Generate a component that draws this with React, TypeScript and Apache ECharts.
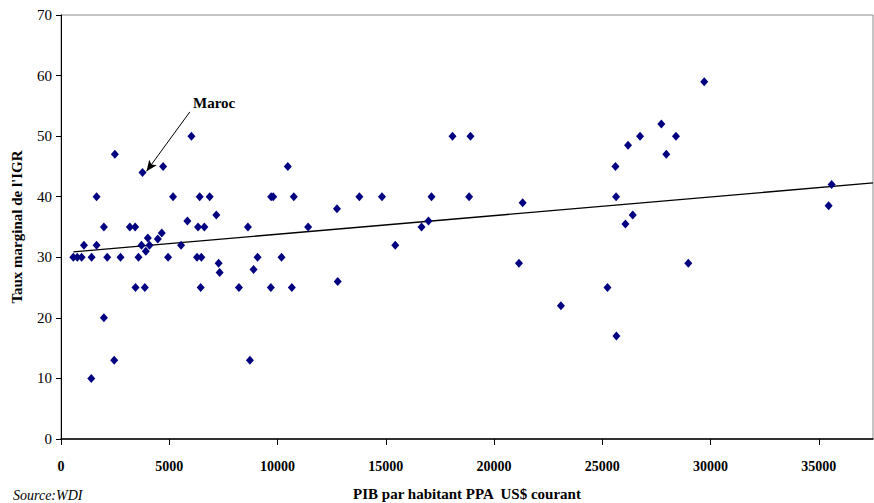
import React, { useEffect, useRef } from "react";
import * as echarts from "echarts";

const pibValues = [
  568, 753, 952, 1060, 1398, 1413, 1643, 1643, 1981, 1981, 2135, 2457, 2488, 2749, 3180, 3425, 3441, 3579, 3718, 3764,
  3871, 3917, 4009, 4087, 4470, 4654, 4716, 4946, 5175, 5545, 5837, 6023, 6282, 6328, 6405, 6451, 6482, 6620, 6866, 7173,
  7280, 7327, 8218, 8632, 8725, 8893, 9078, 9692, 9706, 9800, 10184, 10475, 10660, 10751, 11413, 12745, 12780, 13779, 14823, 15437,
  16650, 16970, 17110, 18080, 18848, 18910, 21150, 21320, 23087, 25237, 25606, 25635, 25650, 26066, 26188, 26404, 26742, 27725, 27955, 28400,
  28970, 29706, 35450, 35590,
];
const tauxValues = [
  30, 30, 30, 32, 10, 30, 40, 32, 35, 20, 30, 13, 47, 30, 35, 35, 25, 30, 32, 44,
  25, 31, 33.2, 32, 33, 34, 45, 30, 40, 32, 36, 50, 30, 35, 40, 25, 30, 35, 40, 37,
  29, 27.5, 25, 35, 13, 28, 30, 25, 40, 40, 30, 45, 25, 40, 35, 38, 26, 40, 40, 32,
  35, 36, 40, 50, 40, 50, 29, 39, 22, 25, 45, 40, 17, 35.5, 48.5, 37, 50, 52, 47, 50,
  29, 59, 38.5, 42,
];
const trendX = [568, 37500];
const trendY = [30.9, 42.27];
const arrowFrom = [5950, 54];
const arrowTo = [3950, 44.2];
const annotationText = "Maroc";

const serif = "'Liberation Serif', 'Times New Roman', serif";

export default function App() {
  const ref = useRef<HTMLDivElement>(null);
  useEffect(() => {
    if (!ref.current) return;
    const chart = echarts.init(ref.current, null, { renderer: "svg" });
    const points = pibValues.map((x, i) => [x, tauxValues[i]]);
    chart.setOption({
      animation: false,
      backgroundColor: "#ffffff",
      grid: {
        left: 61,
        right: 1,
        top: 15,
        bottom: 64,
        containLabel: false,
        outerBoundsMode: "none",
        show: true,
        borderColor: "#8c8c8c",
        borderWidth: 1,
      },
      xAxis: {
        type: "value",
        min: 0,
        max: 37500,
        interval: 5000,
        name: "PIB par habitant PPA  US$ courant",
        nameLocation: "middle",
        nameGap: 47,
        nameTextStyle: { fontFamily: serif, fontWeight: "bold", fontSize: 15, color: "#000" },
        axisLine: { lineStyle: { color: "#000", width: 1.5 } },
        axisTick: { show: true, length: 6, lineStyle: { color: "#000" } },
        axisLabel: {
          showMaxLabel: false,
          margin: 20,
          fontFamily: serif,
          fontWeight: "bold",
          fontSize: 14,
          color: "#000",
          formatter: (v: number) => String(v),
        },
        splitLine: { show: false },
      },
      yAxis: {
        type: "value",
        min: 0,
        max: 70,
        interval: 10,
        name: "Taux marginal de l'IGR",
        nameLocation: "middle",
        nameGap: 37,
        nameRotate: 90,
        nameTextStyle: { fontFamily: serif, fontWeight: "bold", fontSize: 15, color: "#000" },
        axisLine: { lineStyle: { color: "#000", width: 1 } },
        axisTick: { show: true, length: 5, lineStyle: { color: "#000" } },
        axisLabel: { margin: 9, fontFamily: serif, fontSize: 15, color: "#000" },
        splitLine: { show: false },
      },
      series: [
        {
          type: "line",
          data: trendX.map((x, i) => [x, trendY[i]]),
          showSymbol: false,
          symbol: "none",
          lineStyle: { color: "#000", width: 1.3 },
          silent: true,
          z: 1,
        },
        {
          type: "scatter",
          data: points,
          symbol: "diamond",
          symbolSize: [8, 9],
          itemStyle: { color: "#000080", opacity: 1 },
          z: 3,
          markLine: {
            silent: true,
            symbol: ["none", "arrow"],
            symbolSize: [7, 11],
            lineStyle: { color: "#000", width: 1, type: "solid" },
            label: { show: false },
            data: [[{ coord: arrowFrom }, { coord: arrowTo }]],
          },
        },
      ],
      graphic: [
        {
          type: "text",
          left: 193,
          top: 95,
          style: { text: annotationText, fontFamily: serif, fontWeight: "bold", fontSize: 15, fill: "#000" },
        },
        {
          type: "text",
          left: 13,
          top: 488,
          style: { text: "Source:WDI", fontFamily: serif, fontStyle: "italic", fontSize: 14, fill: "#000" },
        },
      ],
    });
    return () => chart.dispose();
  }, []);
  return <div ref={ref} style={{ width: 874, height: 503, position: "absolute", left: 0, top: 0 }} />;
}
